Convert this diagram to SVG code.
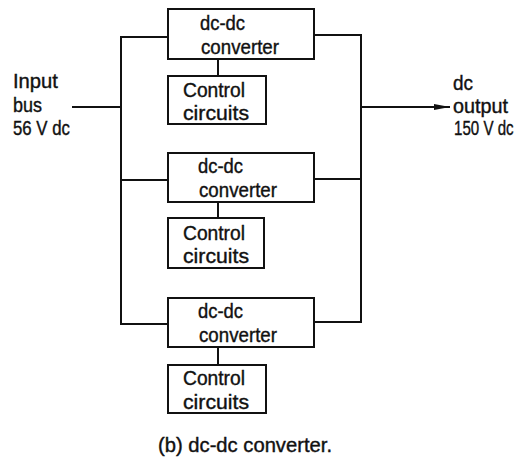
<svg xmlns="http://www.w3.org/2000/svg" width="524" height="463" viewBox="0 0 524 463">
<style>
.box{fill:#fff;stroke:#111;stroke-width:2}
.ln{fill:none;stroke:#111;stroke-width:2}
text{font-family:"Liberation Sans",Arial,sans-serif;font-size:21px;fill:#111;stroke:#111;stroke-width:0.4}
</style>
<defs>
<marker id="arr" markerWidth="16" markerHeight="8" refX="16" refY="4" orient="auto" markerUnits="userSpaceOnUse">
<path d="M0,1 L16,4 L0,7 Z" fill="#111"/>
</marker>
</defs>
<rect width="524" height="463" fill="#fff"/>
<g id="connectors">
<path class="ln" d="M72,107 H121"/>
<path class="ln" d="M168,37 H121 V324 H168"/>
<path class="ln" d="M121,180 H168"/>
<path class="ln" d="M314,35 H361 V322 H314"/>
<path class="ln" d="M314,179 H361"/>
<path class="ln" d="M361,107 H450" marker-end="url(#arr)"/>
<path class="ln" d="M218,59 V76"/>
<path class="ln" d="M218,202 V218"/>
<path class="ln" d="M218,347 V365"/>
</g>
<g id="input-label">
<text x="13" y="88" textLength="45" lengthAdjust="spacingAndGlyphs">Input</text>
<text x="13" y="112" textLength="29" lengthAdjust="spacingAndGlyphs">bus</text>
<text transform="translate(13,135) scale(0.8,1)">56 V dc</text>
</g>
<g id="output-label">
<text x="453" y="90" textLength="20" lengthAdjust="spacingAndGlyphs">dc</text>
<text x="453" y="113" textLength="55" lengthAdjust="spacingAndGlyphs">output</text>
<text transform="translate(454,135) scale(0.72,1)">150 V dc</text>
</g>
<g id="converter1">
<rect class="box" x="168" y="9" width="146" height="50"/>
<text x="200" y="30" textLength="45" lengthAdjust="spacingAndGlyphs">dc-dc</text>
<text x="201" y="54" textLength="78" lengthAdjust="spacingAndGlyphs">converter</text>
</g>
<g id="control1">
<rect class="box" x="168" y="76" width="98" height="48"/>
<text x="183" y="97" textLength="62" lengthAdjust="spacingAndGlyphs">Control</text>
<text x="183" y="120" textLength="66" lengthAdjust="spacingAndGlyphs">circuits</text>
</g>
<g id="converter2">
<rect class="box" x="168" y="153" width="146" height="49"/>
<text x="198" y="173" textLength="45" lengthAdjust="spacingAndGlyphs">dc-dc</text>
<text x="199" y="197" textLength="78" lengthAdjust="spacingAndGlyphs">converter</text>
</g>
<g id="control2">
<rect class="box" x="168" y="218" width="96" height="50"/>
<text x="183" y="240" textLength="62" lengthAdjust="spacingAndGlyphs">Control</text>
<text x="183" y="263" textLength="66" lengthAdjust="spacingAndGlyphs">circuits</text>
</g>
<g id="converter3">
<rect class="box" x="168" y="298" width="146" height="49"/>
<text x="198" y="318" textLength="45" lengthAdjust="spacingAndGlyphs">dc-dc</text>
<text x="199" y="342" textLength="78" lengthAdjust="spacingAndGlyphs">converter</text>
</g>
<g id="control3">
<rect class="box" x="168" y="365" width="98" height="48"/>
<text x="183" y="385" textLength="62" lengthAdjust="spacingAndGlyphs">Control</text>
<text x="183" y="409" textLength="66" lengthAdjust="spacingAndGlyphs">circuits</text>
</g>
<g id="caption">
<text x="158" y="452" textLength="174" lengthAdjust="spacingAndGlyphs">(b) dc-dc converter.</text>
</g>
</svg>
